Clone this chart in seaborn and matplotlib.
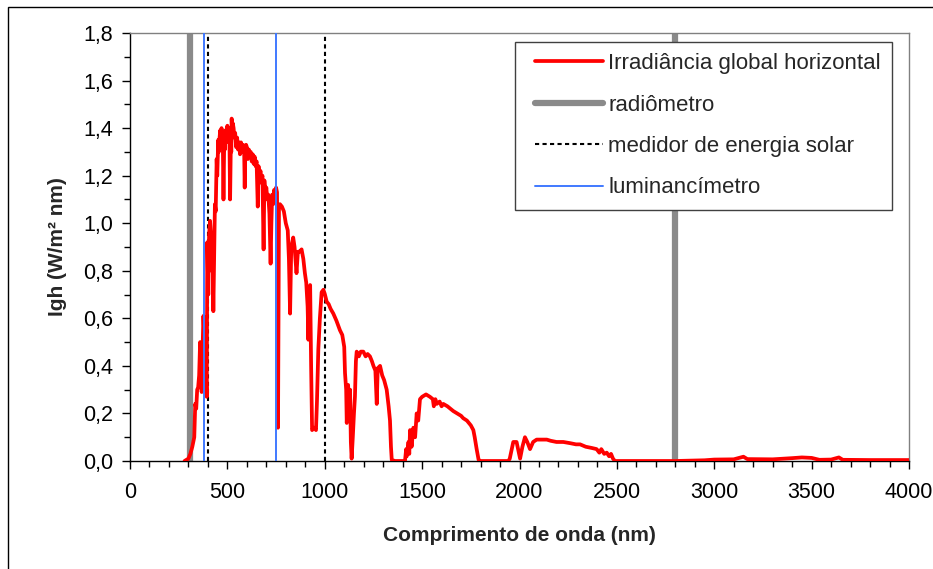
import matplotlib
matplotlib.use("Agg")
import matplotlib.pyplot as plt
import seaborn as sns
import pandas as pd
from matplotlib.lines import Line2D
from matplotlib.legend_handler import HandlerLine2D
from matplotlib.patches import Rectangle
from matplotlib.ticker import MultipleLocator

# ---------------- data ----------------
wavelength = [
    280, 290, 300, 310, 320, 330, 335, 340,
    345, 350, 355, 360, 365, 368, 372, 377,
    383, 388, 394, 397, 402, 406, 411, 416,
    419, 424, 428, 432, 436, 440, 445, 448,
    453, 456, 460, 463, 466, 470, 473, 476,
    480, 484, 487, 490, 494, 497, 500, 503,
    506, 510, 514, 518, 520, 522, 525, 528,
    532, 536, 540, 545, 550, 555, 560, 565,
    570, 575, 580, 586, 589, 592, 596, 600,
    605, 610, 615, 620, 625, 630, 635, 640,
    645, 650, 656, 660, 665, 670, 675, 680,
    686, 690, 695, 700, 705, 710, 716, 722,
    726, 730, 735, 740, 745, 750, 755, 760,
    765, 770, 780, 790, 800, 810, 816, 822,
    828, 838, 845, 855, 862, 870, 881, 890,
    898, 905, 912, 916, 920, 925, 930, 935,
    945, 955, 960, 967, 975, 984, 993, 1001,
    1010, 1020, 1030, 1044, 1060, 1078, 1090, 1100,
    1104, 1110, 1113, 1120, 1126, 1130, 1134, 1138,
    1144, 1150, 1155, 1160, 1164, 1175, 1185, 1198,
    1210, 1220, 1232, 1242, 1250, 1260, 1267, 1272,
    1284, 1295, 1305, 1318, 1328, 1335, 1340, 1344,
    1360, 1380, 1400, 1412, 1418, 1421, 1430, 1434,
    1438, 1446, 1455, 1464, 1472, 1480, 1489, 1500,
    1520, 1540, 1555, 1560, 1568, 1575, 1590, 1600,
    1609, 1630, 1645, 1660, 1680, 1700, 1711, 1730,
    1750, 1763, 1770, 1780, 1790, 1800, 1900, 1943,
    1950, 1960, 1968, 1985, 1995, 2003, 2015, 2028,
    2040, 2054, 2070, 2088, 2110, 2140, 2160, 2190,
    2225, 2260, 2290, 2311, 2340, 2370, 2396, 2410,
    2420, 2435, 2448, 2460, 2470, 2480, 2490, 2600,
    2800, 2950, 3000, 3100, 3150, 3170, 3300, 3400,
    3450, 3500, 3540, 3600, 3640, 3660, 3800, 4000,
]
irradiance = [
    0.0, 0.005, 0.01, 0.03, 0.06, 0.10, 0.24, 0.22,
    0.30, 0.31, 0.36, 0.50, 0.38, 0.29, 0.45, 0.61,
    0.50, 0.42, 0.27, 0.92, 0.70, 0.95, 1.01, 0.95,
    0.80, 0.88, 0.63, 0.85, 1.08, 1.05, 1.27, 1.20,
    1.35, 1.30, 1.36, 1.39, 1.34, 1.40, 1.36, 1.38,
    1.10, 1.36, 1.31, 1.39, 1.34, 1.40, 1.41, 1.36,
    1.38, 1.40, 1.10, 1.35, 1.30, 1.44, 1.38, 1.42,
    1.40, 1.36, 1.38, 1.32, 1.36, 1.31, 1.34, 1.29,
    1.34, 1.30, 1.33, 1.31, 1.15, 1.30, 1.33, 1.32,
    1.27, 1.31, 1.28, 1.30, 1.26, 1.29, 1.25, 1.28,
    1.24, 1.26, 1.07, 1.24, 1.19, 1.22, 1.17, 1.20,
    0.89, 1.18, 1.12, 1.15, 1.10, 1.12, 1.04, 0.83,
    1.00, 1.12, 1.08, 1.14, 1.12, 1.15, 1.13, 0.14,
    1.06, 1.08, 1.07, 1.05, 1.00, 0.97, 0.85, 0.62,
    0.90, 0.94, 0.90, 0.79, 0.88, 0.88, 0.89, 0.85,
    0.79, 0.75, 0.65, 0.51, 0.68, 0.74, 0.40, 0.13,
    0.14, 0.13, 0.25, 0.47, 0.60, 0.71, 0.72, 0.70,
    0.67, 0.66, 0.64, 0.62, 0.59, 0.55, 0.53, 0.48,
    0.37, 0.30, 0.16, 0.32, 0.18, 0.30, 0.08, 0.01,
    0.10, 0.20, 0.27, 0.42, 0.46, 0.44, 0.46, 0.46,
    0.44, 0.45, 0.44, 0.42, 0.40, 0.38, 0.24, 0.39,
    0.40, 0.36, 0.34, 0.30, 0.23, 0.17, 0.06, 0.005,
    0.0, 0.0, 0.0, 0.0, 0.05, 0.02, 0.08, 0.03,
    0.13, 0.06, 0.14, 0.10, 0.20, 0.17, 0.26, 0.27,
    0.28, 0.27, 0.26, 0.23, 0.26, 0.24, 0.25, 0.23,
    0.24, 0.23, 0.22, 0.21, 0.20, 0.19, 0.18, 0.17,
    0.15, 0.13, 0.10, 0.05, 0.005, 0.0, 0.0, 0.0,
    0.01, 0.05, 0.08, 0.08, 0.04, 0.01, 0.06, 0.10,
    0.08, 0.05, 0.08, 0.09, 0.09, 0.09, 0.085, 0.08,
    0.08, 0.075, 0.07, 0.07, 0.06, 0.055, 0.05, 0.035,
    0.05, 0.03, 0.035, 0.02, 0.03, 0.01, 0.0, 0.0,
    0.0, 0.003, 0.006, 0.007, 0.018, 0.008, 0.007, 0.012,
    0.015, 0.013, 0.005, 0.006, 0.015, 0.005, 0.004, 0.004,
]
assert len(wavelength) == len(irradiance)

radiometro_nm = [310, 2800]
medidor_nm = [400, 1000]
luminancimetro_nm = [380, 750]

x_ticks = [0, 500, 1000, 1500, 2000, 2500, 3000, 3500, 4000]
y_ticks = [0.0, 0.2, 0.4, 0.6, 0.8, 1.0, 1.2, 1.4, 1.6, 1.8]
y_tick_labels = ["0,0", "0,2", "0,4", "0,6", "0,8", "1,0", "1,2", "1,4", "1,6", "1,8"]

labels = ["Irradiância global horizontal", "radiômetro",
          "medidor de energia solar", "luminancímetro"]
x_title = "Comprimento de onda (nm)"
y_title = "Igh (W/m² nm)"

# ---------------- style ----------------
sns.set_style("white")
plt.rcParams["font.family"] = ["Liberation Sans", "DejaVu Sans"]

W, H = 933, 569
fig = plt.figure(figsize=(W / 100, H / 100), dpi=100)
ax = fig.add_axes([130 / W, 1 - 461 / H, 779 / W, 428 / H])

red = "#FF0000"
gray = "#8a8a8a"
blue = "#4079ff"
red_lw = 2.7
gray_lw = 4.5
dot_ls = (0, (2, 1.6))

df = pd.DataFrame({"nm": wavelength, "igh": irradiance})

for x in radiometro_nm:
    ax.axvline(x, color=gray, lw=gray_lw, zorder=2)
for x in medidor_nm:
    ax.axvline(x, color="black", lw=1.5, ls=dot_ls, zorder=2)

sns.lineplot(data=df, x="nm", y="igh", ax=ax, color=red, lw=red_lw,
             sort=False, zorder=3, legend=False)

for x in luminancimetro_nm:
    ax.axvline(x, color=blue, lw=1.4, zorder=4)

ax.set_xlim(0, 4000)
ax.set_ylim(0, 1.8)
ax.set_xticks(x_ticks)
ax.set_xticklabels([str(v) for v in x_ticks])
ax.set_yticks(y_ticks)
ax.set_yticklabels(y_tick_labels)
ax.xaxis.set_minor_locator(MultipleLocator(100))
ax.yaxis.set_minor_locator(MultipleLocator(0.1))

ax.tick_params(axis="both", which="major", direction="out", length=6,
               width=1, color="black", labelsize=15.5, labelcolor="black")
ax.tick_params(axis="both", which="minor", direction="out", length=4,
               width=1, color="black")
ax.tick_params(axis="x", which="major", pad=9)
ax.tick_params(axis="y", which="major", pad=6)
ax.tick_params(bottom=True, left=True, which="both")

for side in ["left", "bottom"]:
    ax.spines[side].set_color("black")
    ax.spines[side].set_linewidth(1.0)
for side in ["top", "right"]:
    ax.spines[side].set_visible(True)
    ax.spines[side].set_color("#808080")
    ax.spines[side].set_linewidth(1.0)

ax.set_xlabel(x_title, fontsize=15, fontweight="bold", labelpad=17)
ax.set_ylabel(y_title, fontsize=15, fontweight="bold", labelpad=12)

handles = [
    Line2D([], [], color=red, lw=red_lw),
    Line2D([], [], color=gray, lw=gray_lw),
    Line2D([], [], color="black", lw=1.5, ls=dot_ls),
    Line2D([], [], color=blue, lw=1.4),
]
leg = ax.legend(handles, labels, loc="upper left",
                bbox_to_anchor=((515 - 130) / 779, 1 - (42 - 33) / 428),
                borderaxespad=0, fontsize=16, frameon=True, fancybox=False,
                handlelength=3.47, handletextpad=0.22, labelspacing=0.92,
                borderpad=0.5, framealpha=1,
                handler_map={Line2D: HandlerLine2D(xpad=0.4)})
leg.get_frame().set_edgecolor("#404040")
leg.get_frame().set_linewidth(1.0)

# outer chart frame (cropped on right and bottom)
fig.patches.append(Rectangle((8 / W, -0.2), 1.5, 1 - 7 / H + 0.2,
                             transform=fig.transFigure, fill=False,
                             edgecolor="black", lw=1.0, zorder=0))

fig.savefig("out.png", dpi=100)
